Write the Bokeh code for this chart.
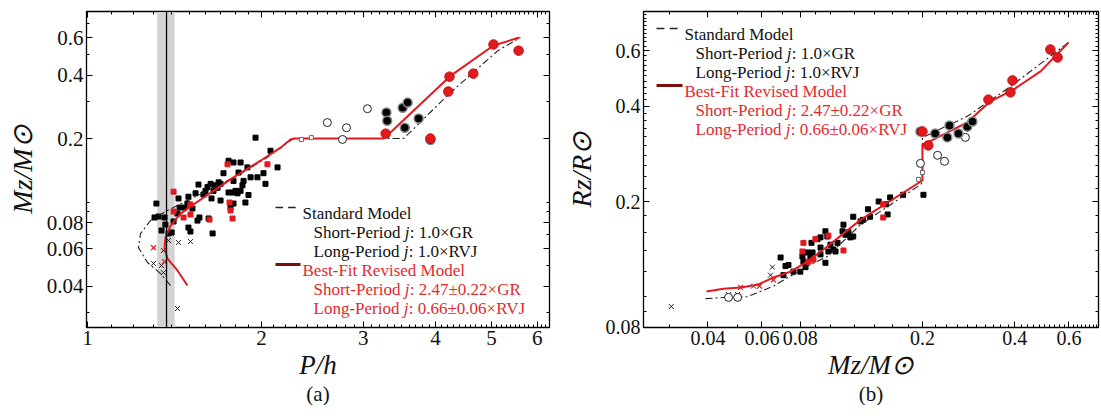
from bokeh.plotting import figure
from bokeh.models import (Range1d, LogAxis, FixedTicker, Label, BoxAnnotation, Span, Title,
                          CustomJSTickFormatter)
from bokeh.layouts import row
from bokeh.embed import file_html
from bokeh.resources import INLINE

# ---------------- panel (a): M_z vs P ----------------
a_xticks = [1, 2, 3, 4, 5, 6]
a_yticks = [0.04, 0.06, 0.08, 0.2, 0.4, 0.6]

a_sq_P = [1.316, 1.306, 1.327, 1.343, 1.359, 1.364, 1.381, 1.398, 1.409, 1.431, 1.437, 1.443, 1.472, 1.495,
          1.489, 1.519, 1.550, 1.562, 1.495, 1.507, 1.556, 1.538, 1.587, 1.613, 1.633, 1.659, 1.639, 1.646,
          1.620, 1.686, 1.699, 1.719, 1.699, 1.754, 1.789, 1.840, 1.789, 1.782, 1.818, 1.840, 1.768, 1.789,
          1.854, 1.862, 1.825, 1.891, 1.915, 1.876, 1.968, 1.953, 2.016, 2.032, 2.073, 2.132, 1.652, 1.679,
          1.754, 1.803, 1.899, 1.600]
a_sq_M = [0.0984, 0.0845, 0.0854, 0.0733, 0.0845, 0.0782, 0.0710, 0.0717, 0.0809, 0.0882, 0.104, 0.0942,
          0.0942, 0.106, 0.0984, 0.0932, 0.0817, 0.0845, 0.0757, 0.0725, 0.121, 0.110, 0.1086, 0.118, 0.122,
          0.120, 0.104, 0.071, 0.0836, 0.124, 0.122, 0.137, 0.1017, 0.157, 0.154, 0.154, 0.126, 0.111, 0.110,
          0.113, 0.0942, 0.0984, 0.120, 0.126, 0.138, 0.146, 0.131, 0.0995, 0.131, 0.202, 0.137, 0.122, 0.175,
          0.146, 0.113, 0.117, 0.111, 0.113, 0.108, 0.113]
a_rsq_P = [1.409, 1.409, 1.507, 1.466, 1.507, 1.626, 1.747, 1.761, 1.768, 1.782, 2.048]
a_rsq_M = [0.112, 0.0902, 0.0974, 0.0845, 0.0873, 0.0826, 0.151, 0.0995, 0.0912, 0.0836, 0.151]
a_x_P = [1.381, 1.437, 1.507, 1.353, 1.301, 1.343, 1.353, 1.431]
a_x_M = [0.0657, 0.0643, 0.0650, 0.0589, 0.0512, 0.0500, 0.0463, 0.0313]
a_rx_P = [1.301, 1.359]
a_rx_M = [0.0608, 0.0522]
a_osq_P = [2.345, 2.44]
a_osq_M = [0.198, 0.202]
a_oc_P = [2.60, 2.806, 3.05, 2.762]
a_oc_M = [0.238, 0.225, 0.277, 0.198]
a_bc_P = [3.29, 3.30, 3.51, 3.58, 3.54, 3.74, 3.92]
a_bc_M = [0.266, 0.243, 0.280, 0.296, 0.225, 0.249, 0.197]
a_rc_P = [3.28, 3.92, 4.23, 4.21, 4.65, 5.04, 5.57]
a_rc_M = [0.211, 0.200, 0.393, 0.334, 0.406, 0.558, 0.522]

a_std_P = [1.392, 1.338, 1.270, 1.225, 1.235, 1.285, 1.375, 1.489, 1.652, 1.840, 2.048, 2.245, 2.28,
           3.52, 3.62, 4.22, 5.12, 5.61]
a_std_M = [0.0402, 0.0458, 0.0517, 0.0608, 0.0709, 0.0817, 0.0912, 0.1017, 0.117, 0.136, 0.163, 0.196, 0.2,
           0.2, 0.215, 0.325, 0.52, 0.602]
a_rev_P = [1.489, 1.431, 1.375, 1.359, 1.364, 1.392, 1.449, 1.525, 1.652, 1.789, 1.992, 2.158, 2.245, 2.28,
           3.25, 3.35, 4.24, 5.04, 5.59]
a_rev_M = [0.0402, 0.0474, 0.054, 0.0602, 0.0679, 0.0774, 0.0882, 0.0974, 0.113, 0.131, 0.157, 0.181, 0.198,
           0.2, 0.2, 0.215, 0.395, 0.552, 0.602]
a_band = (1.32, 1.415)
a_pmin = 1.37

# ---------------- panel (b): R_z vs M_z ----------------
b_xticks = [0.04, 0.06, 0.08, 0.2, 0.4, 0.6]
b_yticks = [0.08, 0.2, 0.4, 0.6]

b_sq_M = [0.069, 0.0716, 0.0732, 0.0705, 0.076, 0.0813, 0.0819, 0.0832, 0.080, 0.0863, 0.087, 0.091, 0.0931,
          0.0966, 0.0966, 0.0931, 0.0844, 0.0877, 0.0931, 0.098, 0.1003, 0.1026, 0.1058, 0.1098, 0.1106,
          0.1122, 0.1148, 0.1165, 0.119, 0.119, 0.1257, 0.128, 0.133, 0.135, 0.144, 0.152, 0.154, 0.157,
          0.173, 0.2015, 0.0988, 0.1042]
b_sq_R = [0.133, 0.125, 0.126, 0.117, 0.120, 0.134, 0.129, 0.124, 0.120, 0.133, 0.148, 0.152, 0.154, 0.161,
          0.128, 0.136, 0.138, 0.138, 0.143, 0.155, 0.146, 0.141, 0.148, 0.161, 0.169, 0.157, 0.160, 0.154,
          0.155, 0.179, 0.173, 0.175, 0.189, 0.179, 0.200, 0.196, 0.182, 0.206, 0.210, 0.210, 0.139, 0.139]
b_rsq_M = [0.0819, 0.0896, 0.0813, 0.085, 0.0883, 0.0988, 0.1106, 0.149, 0.149]
b_rsq_R = [0.148, 0.152, 0.139, 0.129, 0.131, 0.156, 0.140, 0.196, 0.178]
b_x_M = [0.0304, 0.0467, 0.050, 0.0563, 0.064, 0.0649]
b_x_R = [0.0931, 0.1016, 0.1016, 0.108, 0.117, 0.124]
b_rx_M = [0.0511, 0.0589, 0.0654]
b_rx_R = [0.107, 0.108, 0.113]
b_osq_M = [0.194, 0.2]
b_osq_R = [0.235, 0.247]
b_oc_M = [0.197, 0.224, 0.236, 0.276, 0.0467, 0.050]
b_oc_R = [0.264, 0.280, 0.268, 0.319, 0.0995, 0.0995]
b_bc_M = [0.197, 0.220, 0.241, 0.245, 0.262, 0.280, 0.291]
b_bc_R = [0.333, 0.328, 0.319, 0.348, 0.328, 0.345, 0.358]
b_rc_M = [0.200, 0.209, 0.328, 0.393, 0.387, 0.522, 0.551]
b_rc_R = [0.333, 0.301, 0.420, 0.483, 0.443, 0.605, 0.571]

b_std_M = [0.0393, 0.045, 0.0538, 0.0654, 0.0844, 0.098, 0.1257, 0.197, 0.2, 0.2, 0.28, 0.387, 0.496, 0.598]
b_std_R = [0.0986, 0.0994, 0.100, 0.108, 0.125, 0.134, 0.169, 0.226, 0.23, 0.319, 0.372, 0.462, 0.555, 0.637]
b_rev_M = [0.0396, 0.045, 0.0511, 0.058, 0.0654, 0.0743, 0.0844, 0.0952, 0.1257, 0.197, 0.2, 0.2, 0.217,
           0.28, 0.333, 0.396, 0.485, 0.598]
b_rev_R = [0.1038, 0.106, 0.107, 0.109, 0.115, 0.120, 0.129, 0.141, 0.175, 0.231, 0.233, 0.303, 0.314,
           0.356, 0.415, 0.452, 0.516, 0.637]

legend_std = ["Standard Model", ("Short-Period ", ": 1.0\u00d7GR"), ("Long-Period ", ": 1.0\u00d7RVJ")]
legend_rev = ["Best-Fit Revised Model", ("Short-Period ", ": 2.47\u00b10.22\u00d7GR"),
              ("Long-Period ", ": 0.66\u00b10.06\u00d7RVJ")]
a_xlabel, a_ylabel, a_caption = "P/h", "Mz/M\u2299", "(a)"
b_xlabel, b_ylabel, b_caption = "Mz/M\u2299", "Rz/R\u2299", "(b)"

SERIF = "Liberation Serif"
RED = "#e3191f"
LRED = "#e22a2e"
INK = "#111111"
F_TOP, F_H = 11, 316
F_BOTTOM = F_TOP + F_H   # page y of the frames' lower edge


def minor_list(lo, hi, step, skip):
    out = []
    v = lo
    while v <= hi + 1e-9:
        r = round(v, 4)
        if all(abs(r - s) > 1e-9 for s in skip):
            out.append(r)
        v += step
    return out


fmt = CustomJSTickFormatter(code="return String(parseFloat(tick.toPrecision(4)));")


def make_fig(xr, yr, fw, bl, br, xt, yt, xminor, yminor, fs, xlabel, ylabel, caption, xoff, coff):
    p = figure(x_axis_type="log", y_axis_type="log", x_range=Range1d(*xr), y_range=Range1d(*yr),
               frame_width=fw, frame_height=F_H, min_border_left=bl, min_border_right=br,
               min_border_top=F_TOP, min_border_bottom=0, output_backend="svg", title=None,
               toolbar_location=None, background_fill_color="white", border_fill_color="white")
    p.grid.visible = False
    p.outline_line_color = "black"
    p.outline_line_width = 1.3
    for ax, ticks, minor in ((p.xaxis[0], xt, xminor), (p.yaxis[0], yt, yminor)):
        ax.ticker = FixedTicker(ticks=ticks, minor_ticks=minor)
        ax.formatter = fmt
        ax.major_label_text_font = SERIF
        ax.major_label_text_font_size = f"{fs}px"
        ax.major_label_text_color = INK
        ax.major_tick_in = 6
        ax.major_tick_out = 0
        ax.minor_tick_in = 3
        ax.minor_tick_out = 0
        ax.axis_line_color = "black"
        ax.major_label_standoff = 3
    yax = p.yaxis[0]
    yax.axis_label = ylabel
    yax.axis_label_text_font = SERIF
    yax.axis_label_text_font_size = "28px"
    yax.axis_label_text_font_style = "italic"
    yax.axis_label_text_color = INK
    yax.axis_label_standoff = 6
    # mirrored tick marks (no labels) on the top and right edges
    for side, ticks, minor in (("above", xt, xminor), ("right", yt, yminor)):
        for tks, ln in ((ticks, 6), (minor, 3)):
            m = LogAxis(ticker=FixedTicker(ticks=[], minor_ticks=tks), major_tick_in=0, major_tick_out=0,
                        minor_tick_in=ln, minor_tick_out=0, major_label_standoff=0,
                        axis_line_color="black")
            p.add_layout(m, side)
    # x label and caption stacked under the x axis
    p.add_layout(Title(text=xlabel, align="center", offset=xoff, text_font=SERIF, text_font_size="27px",
                       text_font_style="italic", text_color=INK, standoff=0), "below")
    p.add_layout(Title(text=caption, align="center", offset=coff, text_font=SERIF, text_font_size="21px",
                       text_font_style="normal", text_color=INK, standoff=0), "below")
    return p


def txt(p, fl, fb, cx, cy, s, size, color=INK, style="normal"):
    p.add_layout(Label(x=cx - fl, y=fb - cy, x_units="screen", y_units="screen", text=s, text_font=SERIF,
                       text_font_size=f"{size}px", text_font_style=style, text_color=color,
                       text_align="left", text_baseline="alphabetic"))


def bar(p, fl, fb, x0, x1, yc, h, color):
    p.add_layout(BoxAnnotation(left=x0 - fl, right=x1 - fl, bottom=fb - (yc + h / 2), top=fb - (yc - h / 2),
                               left_units="screen", right_units="screen", top_units="screen",
                               bottom_units="screen", fill_color=color, fill_alpha=1.0, line_color=None))


def legend(p, fl, fb, x_line, x_text, x_sub, y0, dy, fs):
    dash = (x_text - 6 - x_line)
    bar(p, fl, fb, x_line, x_line + dash * 0.36, y0 - 6, 1.6, "#222222")
    bar(p, fl, fb, x_line + dash * 0.6, x_line + dash * 0.96, y0 - 6, 1.6, "#222222")
    bar(p, fl, fb, x_line, x_text - 2, y0 + 3 * dy - 6, 2.8, "#7a0d0d")
    widths = {"Short-Period ": 5.361, "Long-Period ": 5.305}
    for k, (items, col) in enumerate(((legend_std, INK), (legend_rev, LRED))):
        yb = y0 + 3 * k * dy
        txt(p, fl, fb, x_text, yb, items[0], fs, color=col)
        for j, (pre, post) in enumerate(items[1:]):
            yy = yb + (j + 1) * dy
            txt(p, fl, fb, x_sub, yy, pre, fs, color=col)
            xj = x_sub + widths[pre] * fs
            txt(p, fl, fb, xj, yy, "j", fs, color=col, style="italic")
            txt(p, fl, fb, xj + 0.30 * fs, yy, post, fs, color=col)


def draw_points(p, sq, rsq, xs, rxs, osq, oc, bc, rc, std, rev):
    p.scatter(sq[0], sq[1], marker="square", size=5, fill_color="black", line_color="black")
    p.scatter(rsq[0], rsq[1], marker="square", size=5, fill_color=RED, line_color=RED)
    p.scatter(xs[0], xs[1], marker="x", size=7, line_color="#222222", line_width=1)
    p.scatter(rxs[0], rxs[1], marker="x", size=7, line_color=RED, line_width=1.3)
    p.line(std[0], std[1], line_color="#222222", line_width=1.1, line_dash="7 3 2 3")
    p.line(rev[0], rev[1], line_color=RED, line_width=2.0)
    p.scatter(osq[0], osq[1], marker="square", size=4, fill_color="white", line_color="#666666")
    p.scatter(oc[0], oc[1], marker="circle", size=8, fill_color="white", line_color="#222222", line_width=1)
    p.scatter(bc[0], bc[1], marker="circle", size=9, fill_color="black", line_color="#8a8a8a", line_width=1.5)
    p.scatter(rc[0], rc[1], marker="circle", size=9.5, fill_color=RED, line_color="#c01010", line_width=1)


# ---------- panel a (page x 0..560, frame 86..549) ----------
a_xminor = minor_list(1.1, 6.3, 0.1, a_xticks)
a_yminor = minor_list(0.03, 0.1, 0.01, a_yticks) + minor_list(0.3, 0.8, 0.1, a_yticks)
pa = make_fig((0.996, 6.30), (0.02544, 0.80), 463, 86, 11, a_xticks, a_yticks, a_xminor, a_yminor, 21,
              a_xlabel, a_ylabel, a_caption, 14, 4)
pa.add_layout(BoxAnnotation(left=a_band[0], right=a_band[1], fill_color="#d3d3d3", fill_alpha=1.0,
                            line_color=None, level="underlay"))
pa.add_layout(Span(location=a_pmin, dimension="height", line_color="black", line_width=1.3))
draw_points(pa, (a_sq_P, a_sq_M), (a_rsq_P, a_rsq_M), (a_x_P, a_x_M), (a_rx_P, a_rx_M),
            (a_osq_P, a_osq_M), (a_oc_P, a_oc_M), (a_bc_P, a_bc_M), (a_rc_P, a_rc_M),
            (a_std_P, a_std_M), (a_rev_P, a_rev_M))
legend(pa, 86, F_BOTTOM, 275, 302, 313, 213, 19, 17)   # page coordinates; frame left=86

# ---------- panel b (page x 560..1101, frame 643..1098) ----------
b_xminor = minor_list(0.03, 0.1, 0.01, b_xticks) + minor_list(0.12, 0.74, 0.02, b_xticks)
b_yminor = minor_list(0.09, 0.1, 0.01, b_yticks) + minor_list(0.12, 0.78, 0.02, b_yticks)
pb = make_fig((0.02468, 0.749), (0.0799, 0.798), 455, 83, 3, b_xticks, b_yticks, b_xminor, b_yminor, 20,
              b_xlabel, b_ylabel, b_caption, 25, 16)
draw_points(pb, (b_sq_M, b_sq_R), (b_rsq_M, b_rsq_R), (b_x_M, b_x_R), (b_rx_M, b_rx_R),
            (b_osq_M, b_osq_R), (b_oc_M, b_oc_R), (b_bc_M, b_bc_R), (b_rc_M, b_rc_R),
            (b_std_M, b_std_R), (b_rev_M, b_rev_R))
legend(pb, 643, F_BOTTOM, 656, 684, 695, 34, 19, 17)

layout = row(pa, pb, spacing=0)
open("out.html", "w").write(file_html(layout, INLINE))
